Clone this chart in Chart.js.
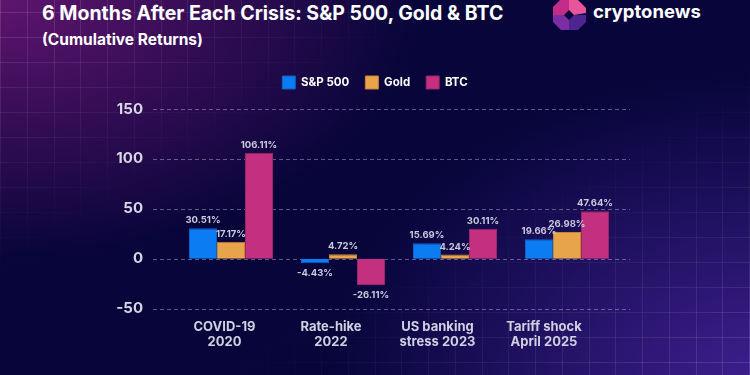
<!DOCTYPE html>
<html>
<head>
<meta charset="utf-8">
<script src="https://cdn.jsdelivr.net/npm/chart.js@4"></script>
<style>
    html, body { margin: 0; padding: 0; }
    body {
        width: 750px; height: 375px; position: relative; overflow: hidden;
        font-family: Inter, sans-serif;
        background:
            radial-gradient(ellipse 420px 260px at 0% 0%, rgba(95, 20, 110, 1) 0%, rgba(95, 20, 110, 0) 100%),
            radial-gradient(ellipse 420px 300px at 100% 100%, rgba(60, 30, 140, 1) 0%, rgba(60, 30, 140, 0) 100%),
            #07053a;
    }
    #grid {
        position: absolute; left: 0; top: 0; width: 750px; height: 375px;
        background-image:
            repeating-linear-gradient(90deg, rgba(255,255,255,0.13) 0 1px, transparent 1px 26.75px),
            repeating-linear-gradient(180deg, transparent 0 12px, rgba(255,255,255,0.13) 12px 13px, transparent 13px 25px);
        -webkit-mask-image: linear-gradient(150deg, #000 0%, transparent 35%, transparent 60%, #000 100%);
        mask-image: linear-gradient(150deg, #000 0%, transparent 35%, transparent 60%, #000 100%);
    }
    #title { position: absolute; left: 42px; top: 3px; color: #fff; font-weight: 700; font-size: 19.5px; line-height: 20px; white-space: nowrap; }
    #subtitle { position: absolute; left: 42px; top: 31px; color: #fff; font-weight: 700; font-size: 15.5px; line-height: 17px; white-space: nowrap; }
    #logo { position: absolute; left: 553px; top: 0; }
    #logoText { position: absolute; left: 593px; top: 1px; color: #fff; font-weight: 700; font-size: 18.5px; line-height: 20px; }
    #wrap { position: absolute; left: 0; top: 0; width: 750px; height: 375px; }
</style>
</head>
<body>
<div id="grid"></div>
<div id="title">6 Months After Each Crisis: S&amp;P 500, Gold &amp; BTC</div>
<div id="subtitle">(Cumulative Returns)</div>
<svg id="logo" width="34" height="31" viewBox="0 0 34 31">
    <polygon points="16,0 25,0 33,8 33,13 21,15 16,10" fill="#e8559a"/>
    <polygon points="7,0 16,0 16,10 11,15 0,15 0,7" fill="#c22d89"/>
    <polygon points="0,15 11,15 16,20 16,30 8,30 0,22" fill="#7b2ea3"/>
    <polygon points="21,15 33,15 33,22 25,30 16,30 16,20" fill="#4c2590"/>
</svg>
<div id="logoText">cryptonews</div>
<div id="wrap"><canvas id="chart" width="750" height="375"></canvas></div>

<script>
    // data
    const categories = [['COVID-19', '2020'], ['Rate-hike', '2022'], ['US banking', 'stress 2023'], ['Tariff shock', 'April 2025']];
    const spx = [30.51, -4.43, 15.69, 19.66];
    const gold = [17.17, 4.72, 4.24, 26.98];
    const btc = [106.11, -26.11, 30.11, 47.64];
    const yTicks = [-50, 0, 50, 100, 150];

    const fontFamily = 'Inter, sans-serif';

    // leave a gap under the legend
    const legendGap = {
        id: 'legendGap',
        beforeInit(chart) {
            const fit = chart.legend.fit;
            chart.legend.fit = function () {
                fit.call(this);
                this.height += 10;
            };
        }
    };

    // dashed lines that run a bit past the plot area
    const dashGrid = {
        id: 'dashGrid',
        beforeDatasetsDraw(chart) {
            const ctx = chart.ctx;
            const y = chart.scales.y;
            ctx.save();
            ctx.strokeStyle = 'rgba(165, 155, 200, 0.55)';
            ctx.lineWidth = 1;
            ctx.setLineDash([4, 3]);
            yTicks.forEach(function (v) {
                const py = Math.round(y.getPixelForValue(v)) + 0.5;
                ctx.beginPath();
                ctx.moveTo(153, py);
                ctx.lineTo(630, py);
                ctx.stroke();
            });
            ctx.restore();
        }
    };

    // percentage labels on bars
    const barLabels = {
        id: 'barLabels',
        afterDatasetsDraw(chart) {
            const ctx = chart.ctx;
            ctx.save();
            ctx.font = 'bold 9.5px ' + fontFamily;
            ctx.fillStyle = '#c9c9dc';
            ctx.textAlign = 'center';
            chart.data.datasets.forEach(function (ds, i) {
                chart.getDatasetMeta(i).data.forEach(function (bar, j) {
                    const v = ds.data[j];
                    if (v >= 0) {
                        ctx.textBaseline = 'bottom';
                        ctx.fillText(v.toFixed(2) + '%', bar.x, bar.y - 3);
                    } else {
                        ctx.textBaseline = 'top';
                        ctx.fillText(v.toFixed(2) + '%', bar.x, bar.y + 5);
                    }
                });
            });
            ctx.restore();
        }
    };

    Chart.defaults.font.family = fontFamily;

    new Chart(document.getElementById('chart'), {
        type: 'bar',
        data: {
            labels: categories.map(function (c) { return c.join(' '); }),
            datasets: [
                { label: 'S&P 500', data: spx, backgroundColor: '#0b7cf2', borderColor: '#0a63c4', borderWidth: 1 },
                { label: 'Gold', data: gold, backgroundColor: '#e8a44b', borderColor: '#c9842f', borderWidth: 1 },
                { label: 'BTC', data: btc, backgroundColor: '#c3307f', borderColor: '#9e2266', borderWidth: 1 }
            ]
        },
        options: {
            responsive: false,
            animation: false,
            layout: { padding: { left: 0, right: 0, top: 60, bottom: 15 } },
            datasets: { bar: { categoryPercentage: 0.75, barPercentage: 1 } },
            plugins: {
                legend: {
                    position: 'top',
                    labels: {
                        boxWidth: 13, boxHeight: 13, padding: 16,
                        color: '#ffffff',
                        font: { size: 11.5, weight: 'bold' }
                    }
                },
                tooltip: { enabled: false }
            },
            scales: {
                x: { type: 'category', display: false, offset: true },
                xl: {
                    type: 'linear', position: 'bottom', offset: false,
                    min: -0.4648, max: 3.742,
                    afterBuildTicks: function (ax) {
                        ax.ticks = categories.map(function (c, i) { return { value: i }; });
                    },
                    grid: { display: false, drawTicks: false },
                    border: { display: false },
                    ticks: {
                        autoSkip: false, maxRotation: 0, padding: 10,
                        color: '#d0d0e2',
                        font: { size: 13, weight: 'bold' },
                        callback: function (v) { return categories[v]; }
                    }
                },
                y: {
                    min: -50, max: 150,
                    afterBuildTicks: function (ax) {
                        ax.ticks = yTicks.map(function (v) { return { value: v }; });
                    },
                    afterFit: function (s) { s.width = 175; },
                    grid: { display: false, drawTicks: false },
                    border: { display: false },
                    ticks: {
                        padding: 32,
                        color: '#d6d6e6',
                        font: { size: 15, weight: 'bold' }
                    }
                },
                yr: {
                    position: 'right',
                    afterFit: function (s) { s.width = 127; },
                    grid: { display: false, drawTicks: false },
                    border: { display: false },
                    ticks: { display: false }
                }
            }
        },
        plugins: [legendGap, dashGrid, barLabels]
    });
</script>
</body>
</html>
